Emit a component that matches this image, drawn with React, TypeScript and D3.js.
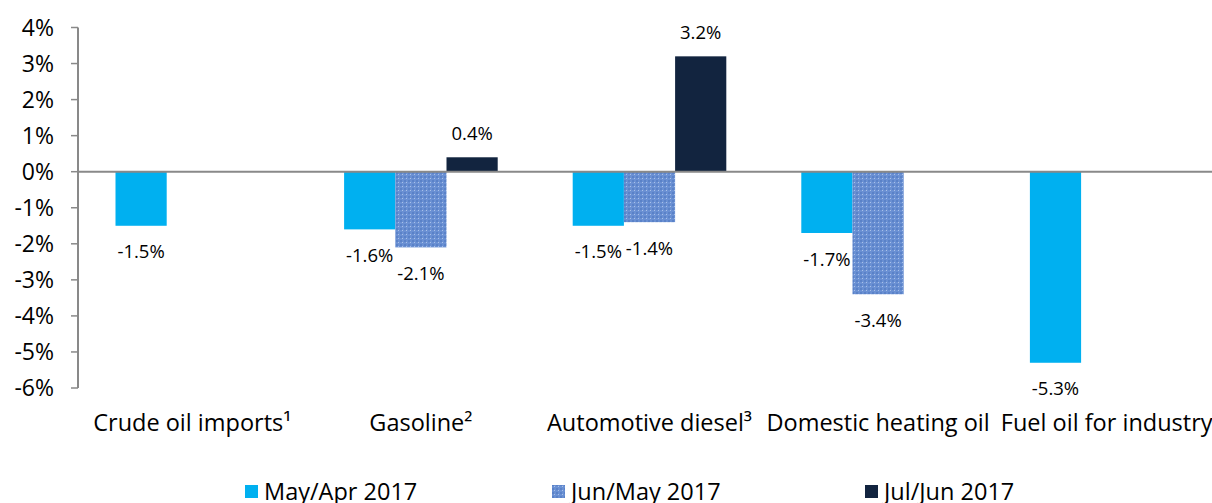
import React from 'react';
import * as d3 from 'd3';

const categories = ['Crude oil imports¹', 'Gasoline²', 'Automotive diesel³', 'Domestic heating oil', 'Fuel oil for industry'];
const seriesNames = ['May/Apr 2017', 'Jun/May 2017', 'Jul/Jun 2017'];
const mayApr = [-1.5, -1.6, -1.5, -1.7, -5.3];
const junMay = [null, -2.1, -1.4, -3.4, null];
const julJun = [null, 0.4, 3.2, null, null];
const yTicks = [4, 3, 2, 1, 0, -1, -2, -3, -4, -5, -6];

const series = [mayApr, junMay, julJun];
const fills = ['#00b0f0', 'url(#grid)', '#12243f'];

function App() {
  const width = 1212;
  const height = 503;
  const font = '"Open Sans", sans-serif';

  const y = d3.scaleLinear().domain([-6, 4]).range([388, 27.5]);
  const x = d3.scaleBand().domain(categories).range([78, 1221]);
  const inner = d3.scaleBand().domain(seriesNames).range([37.5, x.bandwidth() - 37.5]);

  const legendX = [245, 552, 865];

  return (
    <svg width={width} height={height} style={{ display: 'block', position: 'absolute', left: 0, top: 0 }}>
      <defs>
        <pattern id="grid" width="4" height="4" patternUnits="userSpaceOnUse">
          <rect width="4" height="4" fill="#6a90d3" />
          <rect x="0" y="0" width="2" height="2" fill="#5a82c8" />
          <rect x="2" y="2" width="1" height="1" fill="#a9c1e8" />
        </pattern>
      </defs>

      {/* y axis */}
      <line x1={78} x2={78} y1={y(4)} y2={y(-6)} stroke="#898989" strokeWidth={2} />
      {yTicks.map(t => (
        <g key={t}>
          <line x1={71} x2={78} y1={y(t)} y2={y(t)} stroke="#898989" strokeWidth={1.5} />
          <text x={54} y={y(t)} dy="0.36em" textAnchor="end" fontFamily={font} fontSize={23} fill="#000">{t}%</text>
        </g>
      ))}

      {/* bars */}
      {series.map((vals, si) => vals.map((v, ci) => {
        if (v === null) return null;
        const bx = (x(categories[ci]) as number) + (inner(seriesNames[si]) as number);
        const by = Math.min(y(v), y(0));
        const bh = Math.abs(y(v) - y(0));
        return (
          <g key={`${si}-${ci}`}>
            <rect x={bx} y={by} width={inner.bandwidth()} height={bh} fill={fills[si]} />
            <text x={bx + inner.bandwidth() / 2} y={v >= 0 ? y(v) - 24 : y(v) + 26} dy="0.36em"
              textAnchor="middle" fontFamily={font} fontSize={18.5} fill="#000">{v.toFixed(1)}%</text>
          </g>
        );
      }))}

      {/* zero line */}
      <line x1={78} x2={width} y1={y(0)} y2={y(0)} stroke="#898989" strokeWidth={2} />

      {/* category labels */}
      {categories.map(c => (
        <text key={c} x={(x(c) as number) + x.bandwidth() / 2} y={431} textAnchor="middle"
          fontFamily={font} fontSize={23.5} fill="#000">{c}</text>
      ))}

      {/* legend */}
      {seriesNames.map((s, i) => (
        <g key={s}>
          <rect x={legendX[i]} y={485} width={13} height={13} fill={fills[i]} />
          <text x={legendX[i] + 19} y={499.5} fontFamily={font} fontSize={23.5} fill="#000">{s}</text>
        </g>
      ))}
    </svg>
  );
}

export default App;
